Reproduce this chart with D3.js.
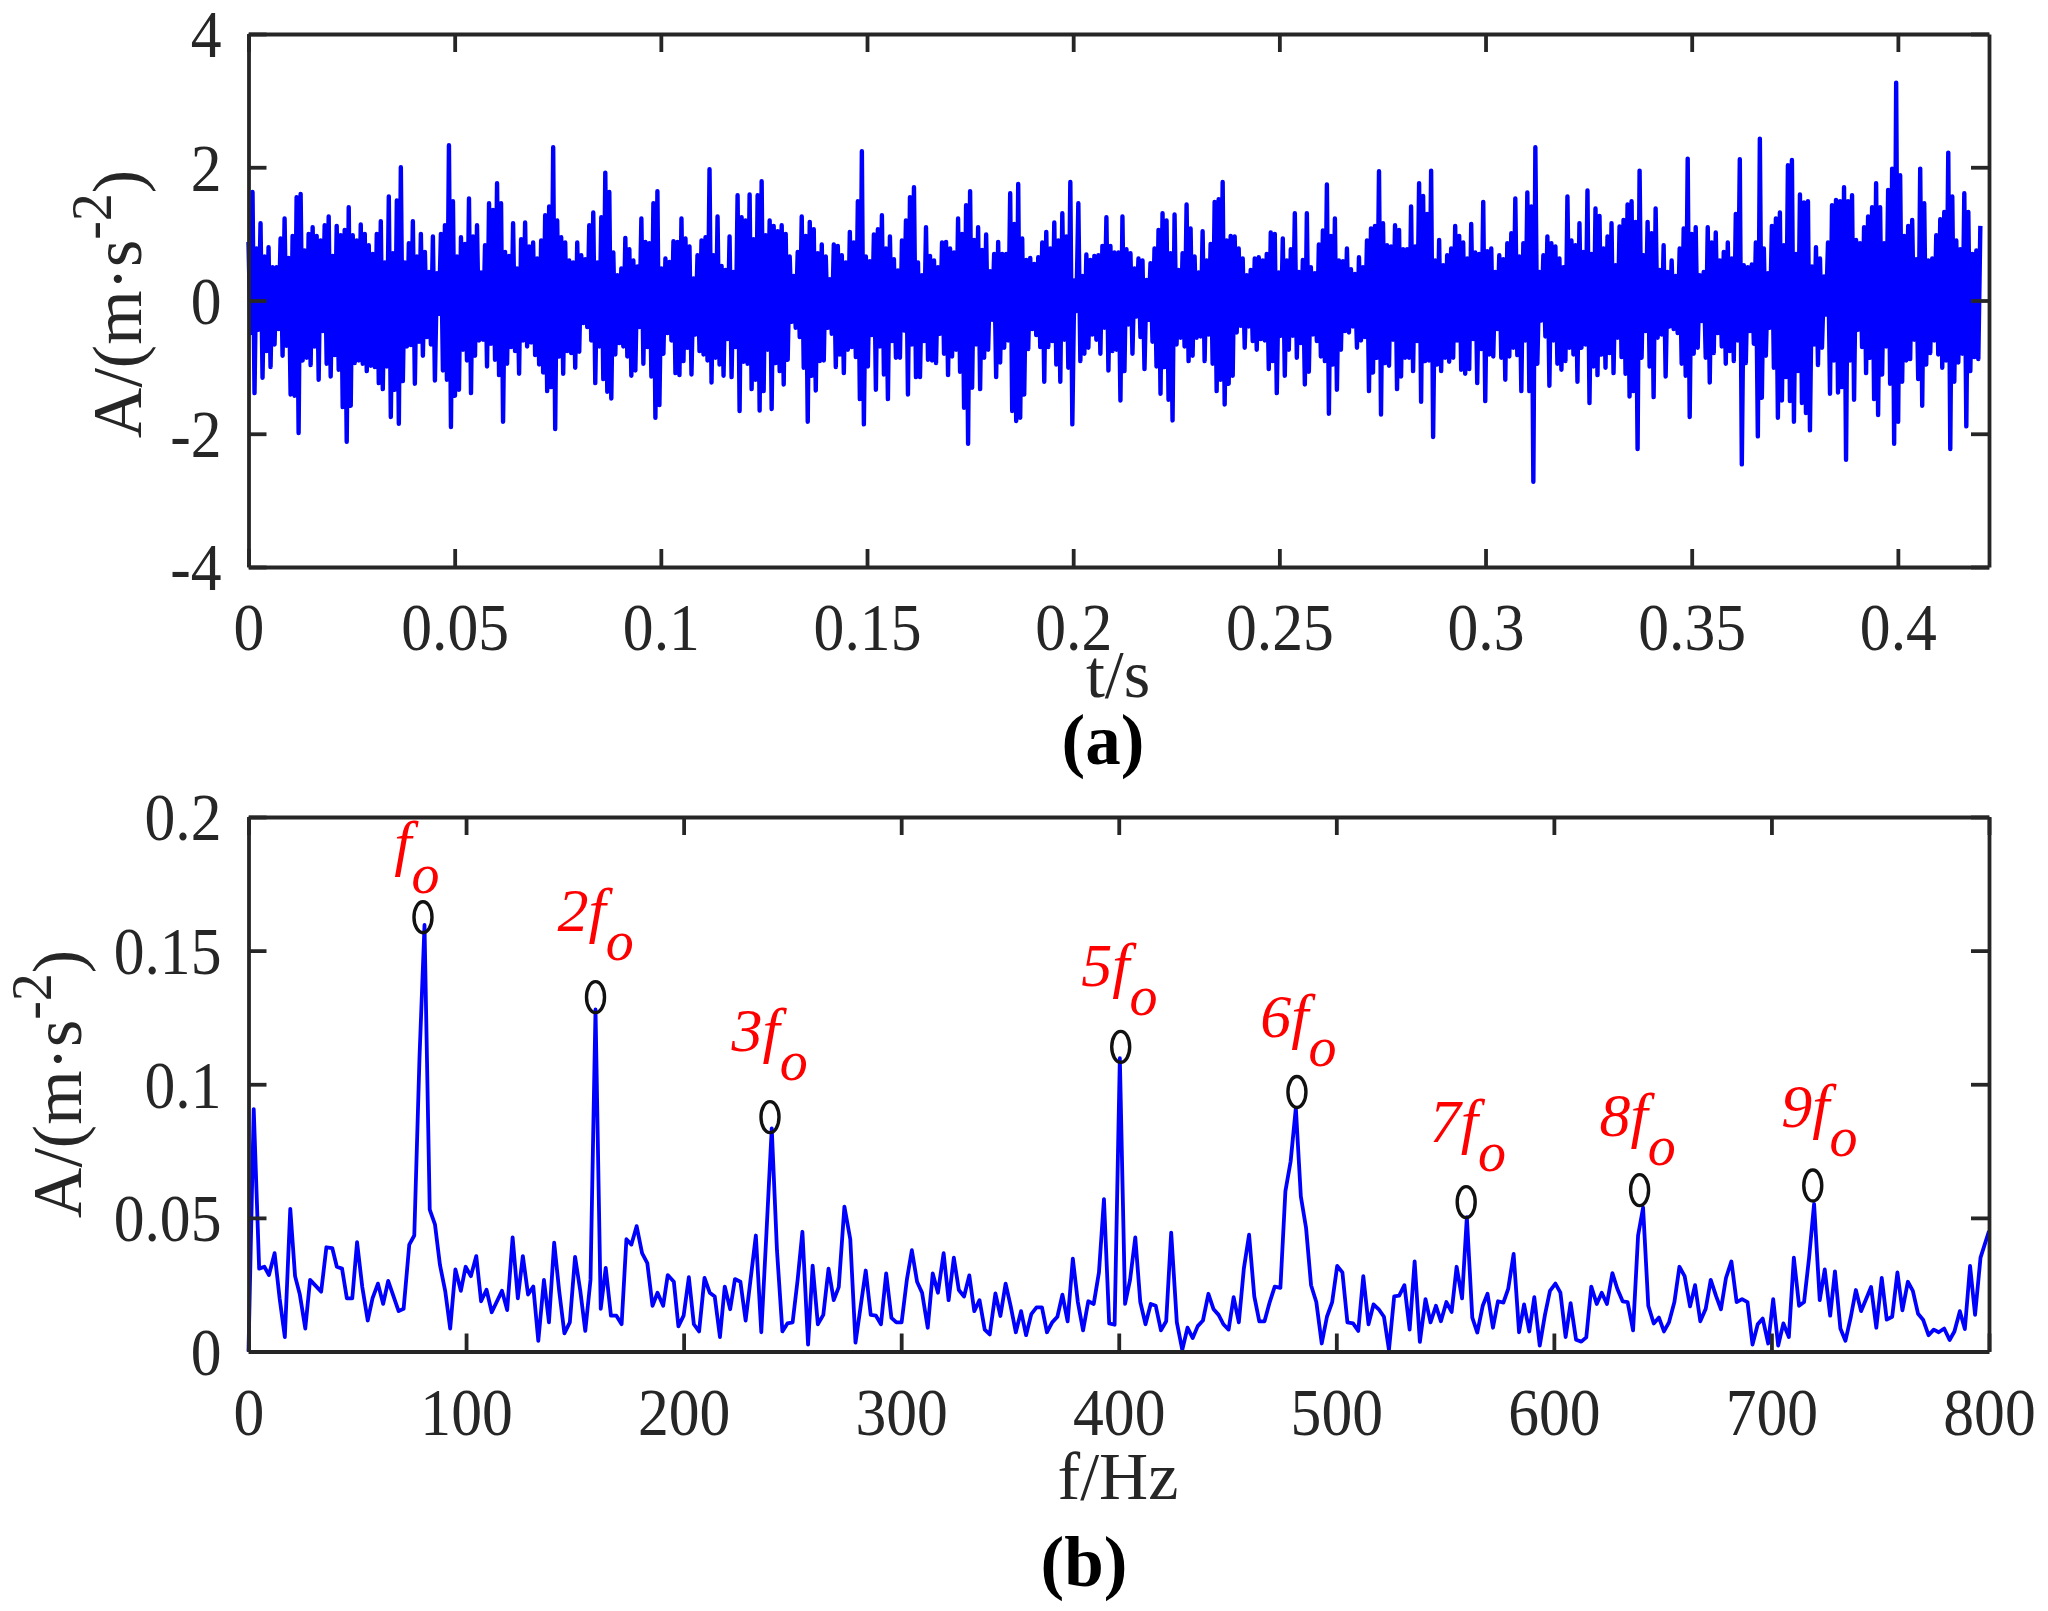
<!DOCTYPE html>
<html>
<head>
<meta charset="utf-8">
<title>Vibration signal and spectrum</title>
<script src="https://cdn.jsdelivr.net/npm/d3@7"></script>
<style>
    body { margin: 0; background: #fff; }
    text { font-family: "Liberation Serif", serif; fill: #262626; }
</style>
</head>
<body>
<svg id="chart" width="2048" height="1611"></svg>
<script>
// panel (a) - time signal, read off the picture as upper and lower envelope
// one value per column, every row is 12 columns
var signalDuration = 0.42;
var signalUpper = [
    .88,1.63,.78,1.16,.66,.8,.5,.5,.93,1.23,.64,.97,
    1.55,1.6,.75,1.0,1.1,.97,.9,1.13,1.26,.67,1.12,.98,
    1.06,1.4,.98,.9,1.14,1.0,.83,.7,1.0,1.19,.57,1.56,
    .71,1.5,2.0,.57,.86,1.19,.66,1.0,.73,.43,.96,.41,
    1.0,1.13,2.33,1.49,.66,.95,.85,1.53,.96,1.13,.42,.83,
    1.46,1.36,1.76,1.46,.73,.67,1.16,.48,.92,1.17,.81,.87,

    .63,.9,1.28,1.41,2.3,1.2,.95,.87,.6,.57,.87,.68,
    .62,1.13,1.32,.57,1.25,1.92,1.63,.72,.38,.48,.94,.77,
    .6,.51,1.23,.88,.86,1.46,1.64,.48,.63,.58,.89,.88,
    1.23,.93,.81,.33,.68,.9,.95,1.97,.68,1.26,.52,.46,
    .96,.43,1.58,1.25,1.2,1.59,.92,1.58,1.79,.98,1.2,1.12,
    1.04,1.13,1.0,.66,.37,.73,1.26,.97,1.18,1.07,.71,.84,

    .66,.32,.84,.82,.68,.57,1.03,.87,1.49,2.24,.66,.59,
    .99,1.07,1.28,.78,.96,.62,.45,.9,1.2,1.55,1.7,.57,
    .38,1.1,.67,.6,.5,.87,.88,.78,.72,1.23,1.0,1.43,
    1.64,.91,1.1,.76,.99,.44,.7,.88,.7,.7,1.61,1.15,
    1.75,.93,.61,.64,.55,.65,.87,1.03,.78,1.17,.9,1.31,
    .96,1.78,.3,1.46,.37,.69,.61,.67,.68,.82,1.25,.82,

    .72,.72,1.26,.77,.71,.48,.63,.6,.31,.56,.78,1.06,
    1.31,1.2,.71,1.29,.46,.71,1.44,1.08,.66,.42,1.04,.6,
    .85,1.48,1.52,1.78,.9,.97,.96,.78,.63,.38,.46,.63,
    .65,.6,.7,1.02,1.0,.42,.93,.6,.77,1.31,.43,.61,
    1.31,.5,.41,.84,1.05,1.74,.97,1.23,.6,.59,.78,.47,
    .4,.65,.5,.9,1.08,1.12,1.94,1.16,.83,.81,1.13,1.06,

    .77,.77,1.41,.81,1.76,1.57,1.3,1.95,.6,.91,.53,.68,
    .78,1.12,.97,.87,.63,1.15,.72,.7,1.48,.74,.78,.43,
    .68,.62,.86,1.01,1.53,.66,.86,1.62,1.41,2.3,.43,.68,
    .96,.86,.81,.63,.5,1.56,.9,.83,1.16,.73,1.65,.7,
    1.38,1.27,.78,.96,1.16,.53,1.11,1.21,1.44,1.49,1.18,1.95,
    .68,1.18,1.01,1.38,.46,.83,.43,.6,.37,.78,1.08,2.13,

    1.0,1.1,.38,.43,1.1,.87,1.02,.6,.73,.87,.63,1.3,
    2.12,.53,.5,.54,.87,2.43,.78,.41,1.12,1.23,1.32,.83,
    2.03,2.11,.7,1.59,1.47,1.49,.51,.8,.63,.36,.87,1.43,
    1.51,1.49,1.7,1.49,1.58,.91,.86,1.1,1.26,1.4,1.76,1.4,
    .86,1.66,1.98,3.27,1.88,.97,1.12,1.21,.62,1.98,1.46,.6,
    .63,.98,1.22,1.33,2.22,1.56,.9,.77,1.61,1.33,.7,.75,1.12
];
var signalLower = [
    -.49,-1.39,-.44,-1.16,-.76,-1.0,-.66,-.43,-.83,-.68,-1.41,-1.43,
    -1.99,-.9,-.86,-.97,-.69,-1.19,-.46,-.95,-1.14,-.82,-1.04,-1.6,
    -2.12,-1.58,-.94,-.9,-.95,-1.06,-.98,-1.0,-1.24,-1.33,-.99,-1.75,
    -1.34,-1.85,-1.21,-.69,-.67,-1.25,-.62,-.83,-.55,-.66,-1.2,-.2,
    -1.05,-1.19,-1.9,-1.43,-1.34,-.74,-.9,-1.39,-.83,-.6,-.59,-.99,
    -.65,-.89,-1.12,-1.82,-.95,-.7,-.76,-1.1,-.6,-.69,-.63,-.82,

    -.96,-1.08,-1.36,-1.3,-1.93,-.84,-1.1,-.76,-.79,-1.01,-.77,-.34,
    -.4,-.6,-1.24,-.69,-1.18,-1.37,-1.47,-.81,-.64,-.69,-.84,-1.13,
    -1.05,-.4,-.95,-.7,-1.14,-1.76,-1.57,-.8,-.49,-.6,-1.09,-1.12,
    -.91,-.71,-1.11,-.51,-.76,-.81,-.9,-1.23,-.86,-.96,-1.13,-.58,
    -1.15,-.7,-1.66,-.92,-.95,-1.33,-1.19,-1.65,-1.36,-.74,-1.63,-.94,
    -1.06,-1.26,-.89,-.32,-.41,-.55,-1.01,-1.82,-1.13,-1.35,-.91,-.9,

    -.41,-.5,-1.0,-.81,-1.09,-.74,-.7,-.85,-1.48,-1.86,-.99,-.52,
    -1.34,-.69,-1.11,-1.48,-.61,-.86,-.86,-.45,-1.41,-.66,-1.15,-1.15,
    -.61,-.89,-.9,-.94,-.5,-.8,-1.12,-.84,-.74,-1.07,-1.61,-2.15,
    -1.31,-.66,-1.33,-.86,-.74,-.29,-1.15,-.93,-.71,-.6,-1.66,-1.81,
    -1.76,-1.41,-.73,-.43,-.52,-.7,-1.22,-.7,-.61,-.96,-1.22,-.59,
    -1.01,-1.86,-.16,-.91,-.8,-.71,-.51,-.59,-.8,-.41,-1.05,-.76,

    -.74,-1.5,-1.06,-.36,-.8,-.24,-.55,-1.03,-.29,-.62,-.99,-1.4,
    -1.0,-1.49,-1.8,-.66,-.56,-.69,-.91,-.83,-.56,-.54,-.91,-.51,
    -.95,-1.36,-1.19,-1.56,-1.25,-1.13,-.48,-.38,-.71,-.39,-.61,-.74,
    -.58,-.6,-1.03,-.91,-1.39,-.53,-1.13,-.74,-.53,-.86,-.64,-1.26,
    -1.07,-.51,-.61,-.84,-.91,-1.7,-.96,-1.34,-.74,-.46,-.48,-.39,
    -.71,-.6,-.55,-1.36,-1.08,-.86,-1.71,-.94,-.98,-.59,-1.33,-1.14,

    -.86,-.86,-1.06,-.61,-1.52,-.91,-.9,-2.05,-.96,-1.06,-.86,-.92,
    -.86,-.6,-1.04,-1.1,-1.03,-.58,-1.24,-.73,-1.51,-.81,-.84,-.43,
    -.86,-1.19,-.84,-.71,-.82,-1.36,-.6,-1.36,-2.72,-.95,-.3,-.54,
    -1.28,-.6,-.95,-1.04,-.91,-.71,-.81,-1.22,-.71,-.66,-1.54,-.99,
    -1.12,-.81,-1.01,-.79,-1.09,-.56,-.85,-1.1,-1.44,-1.36,-2.23,-.86,
    -.46,-.99,-1.45,-.56,-.51,-1.14,-.39,-.43,-.49,-.95,-1.13,-1.75,

    -.8,-.71,-.31,-.86,-1.23,-.79,-.49,-.69,-.95,-.76,-.91,-.6,
    -2.46,-.94,-.46,-.65,-2.04,-1.46,-.83,-.41,-1.01,-1.76,-1.5,-1.15,
    -1.51,-1.82,-1.06,-1.54,-1.69,-1.95,-.66,-.97,-.71,-.21,-1.4,-.9,
    -1.38,-1.3,-2.39,-.9,-1.49,-.44,-.7,-1.09,-.86,-1.48,-1.72,-1.11,
    -.69,-1.25,-2.15,-1.82,-1.22,-.9,-.88,-.59,-1.18,-1.58,-.96,-.79,
    -.6,-.81,-1.01,-.9,-2.23,-1.22,-.93,-.8,-1.89,-1.06,-.85,-.88,-1.74
];

// panel (b) - spectrum, vertex by vertex
var spectrumFreq = [
    0,2.4,4.9,7.3,9.4,12,14.3,16.7,19.2,21.4,23.6,26.1,28.3,33.4,35.8,38.5,40.6,43,45.2,47.7,
    49.9,52.3,54.8,57,59.5,61.9,64.2,69,71.3,73.9,76.2,78.6,80.9,83.3,85.7,88,90.4,92.7,95.1,97.6,
    99.8,102.2,104.7,106.9,109.4,111.8,116.5,118.9,121.4,123.8,126.1,128.5,130.9,133.2,135.8,138.1,140.5,142.8,145.2,147.7,
    150.1,152.5,154.8,157.2,159.5,161.9,164.2,166.6,169.1,171.5,173.7,176,178.4,180.9,183.3,185.7,188,190.6,192.7,195.5,
    197.6,200,202.4,204.7,207.1,209.6,212,214.3,216.7,218.9,221.4,223.6,226.1,228.5,233.2,235.7,238.1,240.5,242.9,245.4,
    247.7,250.1,252.4,254.6,257.2,259.3,261.7,264.2,266.6,269,271.3,273.9,276.6,279,281.3,283.7,286,288.4,290.7,293.1,
    295.5,297.8,300.2,302.6,304.9,307.3,309.6,312.2,314.5,316.9,319.5,321.8,324.2,326.5,328.9,331.3,333.6,336,338.4,340.7,
    343.3,345.6,348,350.3,352.7,355.1,357.4,359.8,362.2,364.7,367,369.4,371.8,374.1,376.5,378.9,381.2,383.6,386,388.5,
    390.9,393.2,395.6,398.1,400.5,402.9,405.2,407.6,409.9,412.3,414.7,417,419.4,421.8,424.1,426.7,429.2,431.6,434,436.3,
    438.7,441.2,443.6,445.9,448.1,450.5,452.8,455.2,457.5,459.9,462.3,464.6,467,469.4,471.7,474.3,476.6,479,481.4,483.7,
    486.1,488.4,490.8,493.3,495.7,498.1,500.4,502.8,505.1,507.7,510.1,512.4,514.8,517.1,519.5,521.9,524.2,526.6,528.9,531.3,
    533.7,536,538.4,541,543.3,545.8,548.1,550.6,553,555.3,557.8,560,562.5,564.8,567.3,569.5,572,574.3,576.8,579,
    581.5,584,586.3,588.7,591,593.5,595.9,598.2,600.7,603,605.4,607.7,610.2,612.6,614.9,617.2,619.7,622,624.4,626.9,
    629.2,631.6,633.9,636.4,638.7,641,643.4,645.9,648.3,650.6,652.9,655.4,657.7,660.1,662.6,664.9,667.3,669.8,672.1,674.6,
    676.8,679.1,681.6,684,686.5,689,691.3,693.7,696,698.5,700.8,703.1,705.5,708,710.3,712.7,715,717.3,719.6,722.2,
    724.5,727,729.2,731.7,734,736.5,738.8,741.2,745.8,748.2,750.7,753,755.5,757.9,760.2,762.7,765,767.4,769.7,772.2,
    774.6,776.9,779.4,781.9,784.1,786.6,788.9,791.3,793.6,796.1,800
];
var spectrumAmp = [
    0,.0907,.031,.0317,.0286,.0368,.0199,.0054,.0534,.0282,.0213,.0086,.0268,.0224,.039,.0387,.0317,.031,.0199,.0199,
    .0409,.0241,.0116,.0199,.0254,.0178,.0264,.0151,.016,.04,.0434,.11,.1596,.0531,.0476,.0324,.0227,.0086,.0307,.0227,
    .0317,.0282,.0357,.0188,.0231,.0147,.0227,.0155,.0427,.0199,.0357,.0213,.0243,.004,.0268,.0109,.0407,.0227,.0068,.0109,
    .0354,.0227,.0077,.0268,.128,.016,.0313,.0134,.0134,.0102,.042,.04,.0469,.0368,.0331,.0171,.022,.0171,.0286,.0261,
    .0094,.0134,.0278,.0102,.0075,.0275,.022,.0206,.0054,.0243,.0158,.0271,.0261,.0116,.0434,.0072,.0448,.0835,.0379,.0075,
    .0105,.0109,.0268,.0448,.0026,.0321,.0102,.0137,.031,.0192,.0241,.0542,.042,.0033,.0165,.0303,.0137,.0134,.0102,.0292,
    .0126,.0109,.0109,.0268,.0379,.0261,.022,.0089,.0292,.022,.0368,.0192,.0351,.023,.0206,.0285,.0151,.0192,.0082,.0064,
    .0217,.0133,.0254,.0171,.0072,.0151,.0061,.014,.0165,.0165,.0072,.0109,.013,.0213,.0113,.0347,.0185,.0079,.0188,.0178,
    .0296,.057,.0105,.01,.1098,.0178,.0268,.0427,.0185,.0102,.0178,.0171,.0079,.0113,.0445,.0109,.0006,.0089,.005,.0095,
    .0116,.0216,.0158,.0137,.0102,.0082,.0203,.0109,.031,.0437,.0206,.0113,.0113,.0185,.0243,.0238,.06,.0711,.0911,.058,
    .0462,.0248,.0185,.003,.013,.0185,.032,.0296,.0109,.0105,.0077,.0282,.0102,.0176,.0158,.013,.0006,.0206,.0209,.0248,
    .0082,.0337,.0036,.0196,.0109,.0171,.0113,.0185,.0148,.0317,.0199,.0503,.0127,.0071,.0171,.0216,.0089,.0188,.0183,.0234,
    .0365,.0072,.0176,.0075,.0203,.0022,.0137,.0227,.0254,.022,.0054,.0181,.0044,.0037,.0053,.0243,.0178,.022,.0178,.0293,
    .0234,.0188,.0185,.0079,.0434,.0538,.0171,.0105,.0127,.0075,.0109,.0185,.0317,.0282,.0169,.0248,.0113,.016,.0268,.0206,
    .0158,.0275,.0337,.0185,.0196,.0185,.0026,.0102,.0123,.003,.0196,.0022,.0105,.0054,.0351,.0171,.0185,.0351,.0552,.0192,
    .0307,.0134,.03,.0086,.004,.013,.023,.0151,.0241,.0089,.0275,.0119,.013,.0296,.0154,.0261,.0227,.0141,.0119,.0061,
    .0082,.0072,.0086,.0043,.0075,.0151,.0084,.032,.0137,.0351,.0451
];

// fault harmonics: marker centres and where their names sit
var peakFreq = [80.2, 159.5, 239.7, 400.9, 481.9, 559.7, 639.4, 719];
var peakAmp = [.1625, .1326, .0877, .114, .0971, .0559, .0604, .0621];
var harmonicNames = ['', '2', '3', '5', '6', '7', '8', '9'];
var nameFreq = [67, 142, 222, 382.8, 465, 543, 621, 704.5];
var nameAmp = [.1824, .1572, .1126, .1368, .1175, .0783, .0805, .084];

// tick labels
var timeTicks = [0, 0.05, 0.1, 0.15, 0.2, 0.25, 0.3, 0.35, 0.4];
var signalTicks = [-4, -2, 0, 2, 4];
var freqTicks = [0, 100, 200, 300, 400, 500, 600, 700, 800];
var spectrumTicks = [0, 0.05, 0.1, 0.15, 0.2];

var axisColor = '#262626';
var left = 248.5, right = 1989;
var tickLen = 18;
var tickFont = 67;
var tickSquash = 0.92; // the picture's digits are taller than they are wide
var labelFont = 70;

var svg = d3.select('#chart');

// scales
var xTime = d3.scaleLinear().domain([0, 0.4221]).range([left, right]);
var ySignal = d3.scaleLinear().domain([-4, 4]).range([567, 34]);
var xFreq = d3.scaleLinear().domain([0, 800]).range([left, right]);
var ySpectrum = d3.scaleLinear().domain([0, 0.2]).range([1351.5, 817]);

// box with ticks on all four sides, labels only on bottom and left
function drawAxes(x, y, xTicks, yTicks) {
    var top = y.range()[1], bottom = y.range()[0];

    function style(g) {
        g.selectAll('.domain').attr('stroke', axisColor).attr('stroke-width', 3.8);
        g.selectAll('line').attr('stroke', axisColor).attr('stroke-width', 3.8);
    }

    var gx = svg.append('g')
        .attr('transform', 'translate(0,' + bottom + ')')
        .call(d3.axisBottom(x).tickValues(xTicks).tickSizeInner(-tickLen).tickSizeOuter(0).tickFormat(String))
        .call(style);
    gx.selectAll('text')
        .attr('y', 0)
        .attr('dy', 0)
        .attr('transform', 'translate(0,83) scale(' + tickSquash + ',1)')
        .style('font-size', tickFont + 'px')
        .attr('font-family', null);

    var gy = svg.append('g')
        .attr('transform', 'translate(' + left + ',0)')
        .call(d3.axisLeft(y).tickValues(yTicks).tickSizeInner(-tickLen).tickSizeOuter(0).tickFormat(String))
        .call(style);
    gy.selectAll('text')
        .attr('x', 0)
        .attr('dy', '.34em')
        .attr('transform', 'translate(-27,0) scale(' + tickSquash + ',1)')
        .style('font-size', tickFont + 'px')
        .attr('font-family', null);

    svg.append('g')
        .attr('transform', 'translate(0,' + top + ')')
        .call(d3.axisTop(x).tickValues(xTicks).tickSizeInner(-tickLen).tickSizeOuter(0).tickFormat(''))
        .call(style);

    svg.append('g')
        .attr('transform', 'translate(' + right + ',0)')
        .call(d3.axisRight(y).tickValues(yTicks).tickSizeInner(-tickLen).tickSizeOuter(0).tickFormat(''))
        .call(style);
}

function drawYLabel(xPos, yPos) {
    var label = svg.append('text')
        .attr('transform', 'translate(' + xPos + ',' + yPos + ') rotate(-90)')
        .attr('text-anchor', 'middle')
        .style('font-size', labelFont + 'px');
    label.append('tspan').text('A/(m\u00b7s');
    label.append('tspan').attr('dy', -30).style('font-size', '56px').text('-2');
    label.append('tspan').attr('dy', 30).text(')');
}

function drawCentered(str, xPos, yPos, size, weight) {
    svg.append('text')
        .attr('x', xPos)
        .attr('y', yPos)
        .attr('text-anchor', 'middle')
        .style('font-size', size + 'px')
        .style('font-weight', weight || 'normal')
        .style('fill', weight ? '#000' : axisColor)
        .text(str);
}

function blueLine(path, width) {
    path.attr('fill', 'none')
        .attr('stroke', '#0000ff')
        .attr('stroke-width', width)
        .attr('stroke-linejoin', 'round');
}

// panel (a): the trace swings from each upper value to each lower value
var columnStep = signalDuration / (signalUpper.length - 1);
var signalPoints = [];
signalUpper.forEach(function(value, i) {
    signalPoints.push({ t: i * columnStep, a: value });
    signalPoints.push({ t: (i + 0.5) * columnStep, a: signalLower[i] });
});
signalPoints.pop();

var signalLine = d3.line()
    .x(function(d) { return xTime(d.t); })
    .y(function(d) { return ySignal(d.a); });

svg.append('path').datum(signalPoints).attr('d', signalLine).call(blueLine, 4.4);
drawAxes(xTime, ySignal, timeTicks, signalTicks);

// panel (b)
var spectrumLine = d3.line()
    .x(function(d, i) { return xFreq(spectrumFreq[i]); })
    .y(function(d) { return ySpectrum(d); });

svg.append('path').datum(spectrumAmp).attr('d', spectrumLine).call(blueLine, 3.8);
drawAxes(xFreq, ySpectrum, freqTicks, spectrumTicks);

// circles on the harmonics
svg.append('g').selectAll('ellipse')
    .data(peakFreq)
    .join('ellipse')
    .attr('cx', function(d) { return xFreq(d); })
    .attr('cy', function(d, i) { return ySpectrum(peakAmp[i]); })
    .attr('rx', 9)
    .attr('ry', 15.5)
    .attr('fill', 'none')
    .attr('stroke', '#111')
    .attr('stroke-width', 3.4);

// harmonic names, the o hangs below the line as in the picture
var names = svg.append('g').selectAll('text')
    .data(harmonicNames)
    .join('text')
    .attr('x', function(d, i) { return xFreq(nameFreq[i]); })
    .attr('y', function(d, i) { return ySpectrum(nameAmp[i]); })
    .style('font-size', '62px')
    .style('font-style', 'italic')
    .style('fill', '#ff0000');
names.append('tspan').text(function(d) { return d + 'f'; });
names.append('tspan').attr('dy', 29).style('font-size', '56px').text('o');

// axis titles and panel letters
drawCentered('t/s', 1118, 697, 68);
drawCentered('f/Hz', 1118, 1499, 68);
drawCentered('(a)', 1103, 764, 71, 'bold');
drawCentered('(b)', 1084, 1586, 71, 'bold');
drawYLabel(141, 304);
drawYLabel(81, 1084);
</script>
</body>
</html>
